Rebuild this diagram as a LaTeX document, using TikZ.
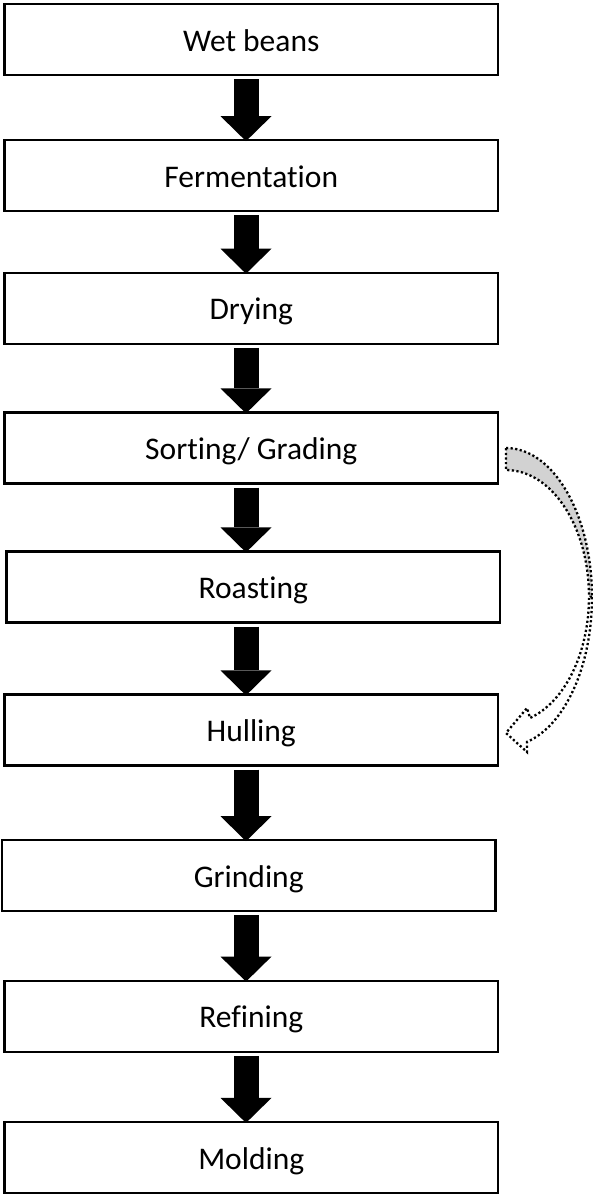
\documentclass[tikz,border=0pt]{standalone}
\usepackage{fontspec}
\setmainfont{Carlito}[Ligatures={NoCommon}]
\usetikzlibrary{arrows.meta,calc}
\begin{document}
\begin{tikzpicture}[x=1pt,y=-1pt,
  stepbox/.style={draw=black,line width=2.2pt,fill=white,rectangle,
    minimum width=493.5pt,minimum height=71pt,inner sep=0pt,
    text height=23pt,text depth=0pt,
    font=\fontsize{31.5}{36}\selectfont},
  blockarrow/.style={line width=25pt,black,
    -{Triangle[width=51pt,length=25pt,line width=0pt]}},
  dotline/.style={line width=2.3pt,dash pattern=on 2.2pt off 2.4pt}]
\useasboundingbox (0,0) rectangle (593,1195);
\coordinate (axis) at (246,0);
\node[stepbox] (n1) at (251.25,39.5) {Wet beans};
\node[stepbox] (n2) at (251.25,175.75) {Fermentation};
\node[stepbox] (n3) at (251.25,308.3) {Drying};
\node[stepbox] (n4) at (251.25,448) {Sorting/ Grading};
\node[stepbox] (n5) at (253.25,587) {Roasting};
\node[stepbox] (n6) at (251.25,730) {Hulling};
\node[stepbox] (n7) at (248.75,875.8) {Grinding};
\node[stepbox] (n8) at (251.25,1016.2) {Refining};
\node[stepbox] (n9) at (251.25,1157.5) {Molding};
\foreach \a/\b in {n1/n2,n2/n3,n3/n4,n4/n5,n5/n6,n6/n7,n7/n8,n8/n9}{
  \draw[blockarrow] ($(\a.south -| axis)+(0,3)$) -- ($(\b.north -| axis)+(0,2)$);
}
% curved arrow from Sorting to Hulling
\filldraw[fill=gray!35,draw=black,dotline]
  (506,448) arc[start angle=-90,end angle=0,x radius=86,y radius=149.2]
  -- (589,596.7) arc[start angle=0,end angle=-90,x radius=83,y radius=126.7]
  -- cycle;
\filldraw[fill=white,draw=black,dotline]
  (592,597.2) arc[start angle=0,end angle=75.86,x radius=86,y radius=149.2]
  -- (527,752) -- (506,733) -- (527,708) -- (530,718)
  arc[start angle=73.19,end angle=0,x radius=83,y radius=126.7]
  -- cycle;
\end{tikzpicture}
\end{document}
